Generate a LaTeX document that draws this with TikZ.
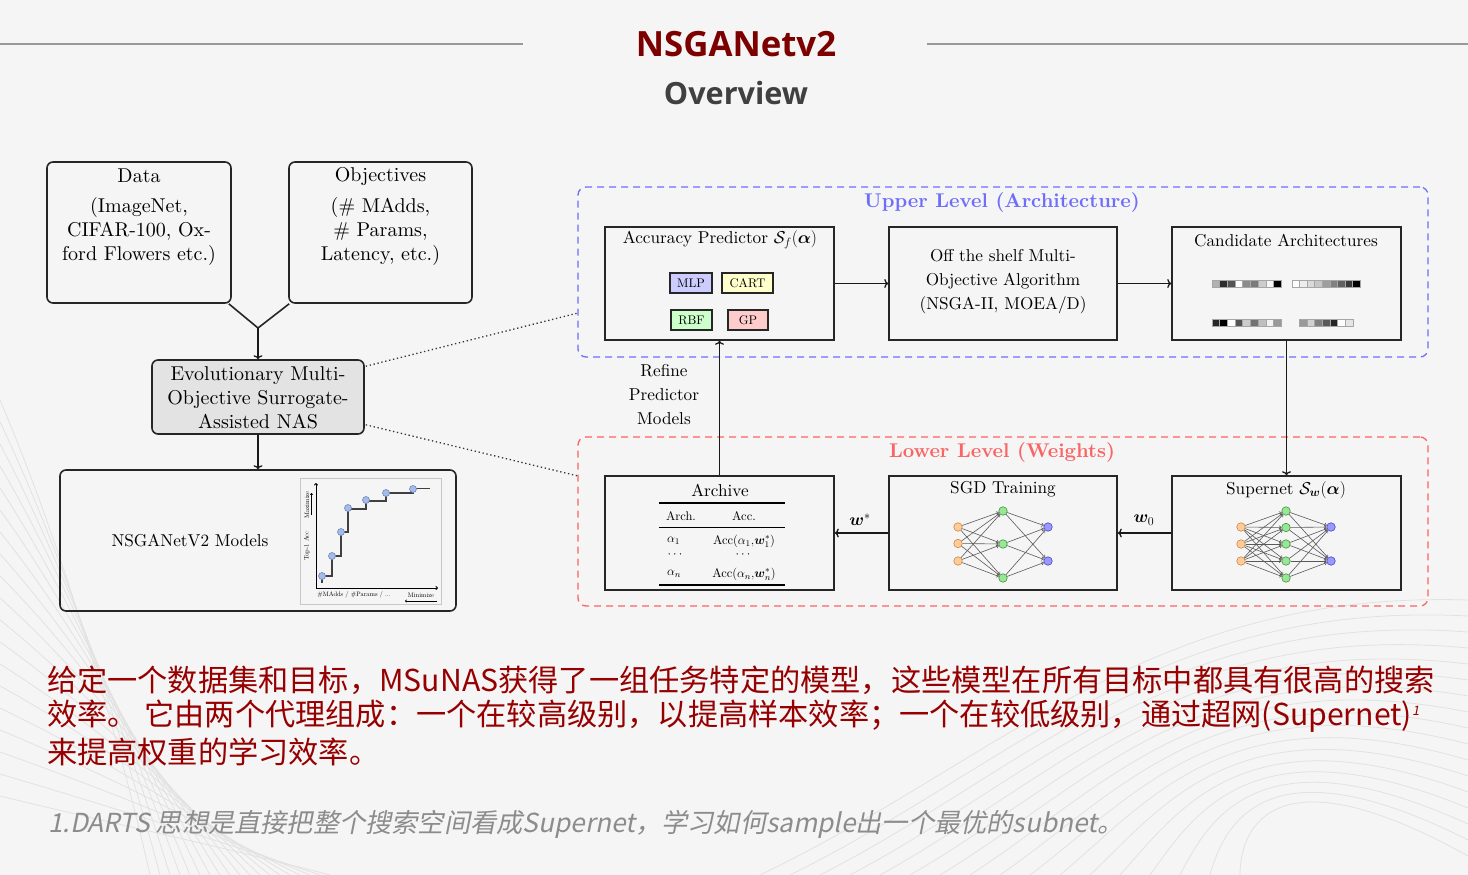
\documentclass[tikz,border=0pt]{standalone}
\usepackage{fix-cm}
\usepackage{amsmath,amssymb,bm}
\usepackage{fontspec}
\setmainfont{lmroman10-regular}[Extension=.otf, BoldFont=lmroman10-bold, ItalicFont=lmroman10-italic, BoldItalicFont=lmroman10-bolditalic]
\newfontfamily\titlefont{Open Sans}
\newfontfamily\cjk{Noto Sans CJK SC}
\newfontfamily\cjkit{Noto Sans CJK SC}[FakeSlant=0.2]
\usetikzlibrary{arrows.meta,calc}
\definecolor{bgc}{RGB}{245,245,245}
\definecolor{wavec}{RGB}{226,226,226}
\definecolor{titlered}{RGB}{125,0,0}
\definecolor{bodyred}{RGB}{150,0,0}
\definecolor{ovgray}{RGB}{64,64,64}
\definecolor{upblue}{RGB}{110,110,250}
\definecolor{lowred}{RGB}{250,100,100}
\definecolor{mlpc}{RGB}{204,204,255}
\definecolor{cartc}{RGB}{255,255,204}
\definecolor{rbfc}{RGB}{204,255,204}
\definecolor{gpc}{RGB}{255,204,204}
\definecolor{inf}{RGB}{255,204,153}
\definecolor{ind}{RGB}{204,136,68}
\definecolor{hif}{RGB}{153,230,153}
\definecolor{hid}{RGB}{60,150,60}
\definecolor{ouf}{RGB}{153,153,255}
\definecolor{oud}{RGB}{70,70,200}
\definecolor{ptf}{RGB}{165,188,232}
\definecolor{ptd}{RGB}{110,135,190}
\definecolor{footc}{RGB}{140,140,140}
\tikzset{
 rbox/.style={draw=black!85, line width=1.6pt, rounded corners=6pt, inner sep=0pt},
 sbox/.style={draw=black!85, line width=1.6pt, inner sep=0pt},
 arr/.style={line width=1.3pt, black!90, -{To[length=4pt,width=9pt]}},
 ln/.style={line width=1.6pt, black!85},
 tL/.style={font=\fontsize{20}{24}\selectfont, inner sep=0pt, align=center},
 tM/.style={font=\fontsize{17.2}{24}\selectfont, inner sep=0pt, align=center},
 tS/.style={font=\fontsize{12.5}{14}\selectfont, inner sep=0pt},
 tXS/.style={font=\fontsize{6.5}{7}\selectfont, inner sep=0pt},
 pbox/.style={draw=black!85, line width=1.5pt, inner sep=0pt, minimum height=20pt, font=\fontsize{12.5}{14}\selectfont},
 nin/.style={circle, draw=ind, fill=inf, minimum size=8.5pt, inner sep=0pt, line width=0.6pt},
 nhid/.style={circle, draw=hid, fill=hif, minimum size=8.5pt, inner sep=0pt, line width=0.6pt},
 nout/.style={circle, draw=oud, fill=ouf, minimum size=8.5pt, inner sep=0pt, line width=0.6pt},
 nedge/.style={line width=0.6pt, black!65, -{To[length=2.5pt,width=4pt]}},
 sq/.style={draw=black!35, line width=0.4pt},
 ppt/.style={circle, fill=ptf, draw=ptd, line width=0.6pt, minimum size=7pt, inner sep=0pt},
 lvl/.style={font=\bfseries\fontsize{19.9}{22}\selectfont, inner sep=0pt},
}
\begin{document}
\begin{tikzpicture}[x=1pt,y=-1pt]
\fill[bgc] (0,0) rectangle (1468,875);
\useasboundingbox (0,0) rectangle (1468,875);
% background waves
\foreach \i in {0,...,18}{
  \draw[wavec, line width=0.8pt] (0,{400+\i*22}) .. controls ({60+\i*4},{540+\i*16}) and ({120+\i*6},{740+\i*6}) .. ({150+\i*10},875);
}
\foreach \i in {0,...,16}{
  \draw[wavec, line width=0.8pt] ({760+\i*30},875) .. controls ({1000+\i*15},{760+\i*4}) and ({1150+\i*8},{590+\i*10}) .. (1468,{600+\i*16});
}
% title
\draw[black!40, line width=1.5pt] (0,44) -- (523,44);
\draw[black!40, line width=1.5pt] (927,44) -- (1468,44);
\node[font=\titlefont\bfseries\fontsize{34.8}{40}\selectfont, text=titlered, inner sep=0pt] (t1) at (736,44) {NSGANetv2};
\node[font=\titlefont\bfseries\fontsize{30.6}{36}\selectfont, text=ovgray, inner sep=0pt] (t2) at (736,93) {Overview};

% left boxes
\node[rbox, minimum width=184pt, minimum height=141pt] (data) at (139,232.5) {};
\node[tL] (datat) at (139,176) {Data};
\node[tL] (datab) at (139,231) {(ImageNet,\\CIFAR-100, Ox-\\ford Flowers etc.)};
\node[rbox, minimum width=183pt, minimum height=141pt] (obj) at (380.5,232.5) {};
\node[tL] (objt) at (380.5,176) {Objectives};
\node[tL] (objb) at (380.5,231) {(\# MAdds,\\\# Params,\\Latency, etc.)};
\node[rbox, fill=black!11, minimum width=212pt, minimum height=74pt] (emo) at (258,397) {};
\node[tL] (emot) at (258,397.5) {Evolutionary Multi-\\Objective Surrogate-\\Assisted NAS};
\coordinate (j) at (258,328);
\draw[ln] ($(data.south east)+(-3,0)$) -- (j);
\draw[ln] ($(obj.south west)+(1,0)$) -- (j);
\draw[arr] (j) -- (emo.north);
\node[rbox, minimum width=396pt, minimum height=141pt] (nsm) at (258,540.5) {};
\draw[arr] (emo.south) -- (nsm.north);
\node[tM] (nsmt) at (190,541) {NSGANetV2 Models};

% plot inset
\node[draw=black!22, line width=0.8pt, minimum width=141pt, minimum height=126pt, inner sep=0pt] (pf) at (370.5,541) {};
\coordinate (po) at (316,588);
\coordinate (py) at (316,483);
\coordinate (px) at (438,588);
\draw[line width=0.9pt, -{To[length=2.5pt,width=4pt]}] (po) -- (py);
\draw[line width=0.9pt, -{To[length=2.5pt,width=4pt]}] (po) -- (px);
\node[tXS, rotate=90] (ylab) at (307,546) {Top-1 Acc};
\node[tXS, rotate=90] (ymax) at (307,505) {Maximize};
\coordinate (ma1) at (311.5,515);
\coordinate (ma2) at (311.5,493);
\draw[line width=0.6pt, -{To[length=2pt,width=3pt]}] (ma1) -- (ma2);
\node[tXS] (xlab) at (354,595) {\#MAdds / \#Params / ...};
\node[tXS] (xmin) at (421,595) {Minimize};
\coordinate (mi1) at (437,601);
\coordinate (mi2) at (405,601);
\draw[line width=0.6pt, -{To[length=2pt,width=3pt]}] (mi1) -- (mi2);
\draw[line width=1.1pt, black!75] (322,583) -- (322,576) -- (332,576) -- (332,556) -- (341,556) -- (341,532) -- (348,532) -- (348,509) -- (366,509) -- (366,501) -- (386,501) -- (386,493) -- (413,493) -- (413,488.5) -- (430,488.5);
\foreach \x/\y [count=\k] in {322/576,332/556,341/532,348/508,366/500,386/493,413/489}{
  \node[ppt] (pp\k) at (\x,\y) {};
}

% dashed level boxes
\node[draw=upblue, dash pattern=on 7pt off 5pt, line width=1.3pt, rounded corners=8pt, minimum width=850pt, minimum height=170pt, inner sep=0pt] (upper) at (1003,272) {};
\node[lvl, text=upblue] (uppert) at (1002,203) {Upper Level (Architecture)};
\node[draw=lowred, dash pattern=on 7pt off 5pt, line width=1.3pt, rounded corners=8pt, minimum width=850pt, minimum height=169pt, inner sep=0pt] (lower) at (1003,521.5) {};
\node[lvl, text=lowred] (lowert) at (1002,453) {Lower Level (Weights)};

% dotted links
\coordinate (d1) at (578,313);
\coordinate (d2) at (578,476);
\draw[line width=1.3pt, dash pattern=on 1.3pt off 2.7pt, black!80] ($(emo.north east)+(1,7)$) -- (d1);
\draw[line width=1.3pt, dash pattern=on 1.3pt off 2.7pt, black!80] ($(emo.south east)+(1,-10)$) -- (d2);

% upper row
\node[sbox, minimum width=229pt, minimum height=113pt] (acc) at (719.5,283.5) {};
\node[tM] (acct) at (720,240) {Accuracy Predictor $\mathcal{S}_f(\bm{\alpha})$};
\node[pbox, fill=mlpc, minimum width=42pt] (mlp) at (691,283) {MLP};
\node[pbox, fill=cartc, minimum width=51pt] (cart) at (747.5,283) {CART};
\node[pbox, fill=rbfc, minimum width=41pt] (rbf) at (691.5,320) {RBF};
\node[pbox, fill=gpc, minimum width=40pt] (gp) at (748,320) {GP};

\node[sbox, minimum width=228pt, minimum height=113pt] (off) at (1003,283.5) {};
\node[tM] (offt) at (1003,282) {Off the shelf Multi-\\Objective Algorithm\\(NSGA-II, MOEA/D)};

\node[sbox, minimum width=229pt, minimum height=113pt] (cand) at (1286.5,283.5) {};
\node[tM] (candt) at (1286,241) {Candidate Architectures};
\foreach \g [count=\k from 0] in {70,18,33,100,55,48,80,96,0}{
  \draw[sq, fill=white!\g!black] ({1212+\k*7.67},280) rectangle ++(7.67,7);
}
\foreach \g [count=\k from 0] in {100,93,85,78,62,50,38,22,0}{
  \draw[sq, fill=white!\g!black] ({1292+\k*7.56},280) rectangle ++(7.56,7);
}
\foreach \g [count=\k from 0] in {15,0,100,33,80,45,75,95,60}{
  \draw[sq, fill=white!\g!black] ({1212+\k*7.67},319.5) rectangle ++(7.67,7);
}
\foreach \g [count=\k from 0] in {60,82,50,35,15,100,90}{
  \draw[sq, fill=white!\g!black] ({1299+\k*7.7},319.5) rectangle ++(7.7,7);
}

% lower row
\node[sbox, minimum width=229pt, minimum height=114pt] (arch) at (719.5,533) {};
\node[tM] (archt) at (720,490) {Archive};
\coordinate (r1a) at (659,503); \coordinate (r1b) at (785,503);
\coordinate (r2a) at (659,527.5); \coordinate (r2b) at (785,527.5);
\coordinate (r3a) at (659,585); \coordinate (r3b) at (785,585);
\draw[line width=1.3pt] (r1a) -- (r1b);
\draw[line width=0.7pt] (r2a) -- (r2b);
\draw[line width=1.3pt] (r3a) -- (r3b);
\node[tS] (h1) at (681,516.5) {Arch.};
\node[tS] (h2) at (744,516.5) {Acc.};
\node[tS, anchor=west] (a1) at (667,541) {$\alpha_1$};
\node[tS] (c1) at (744,541) {Acc$(\alpha_1{,}\bm{w}_1^*)$};
\node[tS] (dd1) at (676,555) {$\cdots$};
\node[tS] (dd2) at (744,555) {$\cdots$};
\node[tS, anchor=west] (an) at (667,574) {$\alpha_n$};
\node[tS] (cn) at (744,574) {Acc$(\alpha_n{,}\bm{w}_n^*)$};

\node[sbox, minimum width=228pt, minimum height=114pt] (sgd) at (1003,533) {};
\node[tM] (sgdt) at (1003,489) {SGD Training};
\foreach \y [count=\k] in {527,543.5,561}{ \node[nin] (si\k) at (958,\y) {}; }
\foreach \y [count=\k] in {511,544,578}{ \node[nhid] (sh\k) at (1003,\y) {}; }
\foreach \y [count=\k] in {527,561}{ \node[nout] (so\k) at (1048,\y) {}; }
\foreach \a in {1,2,3}{ \foreach \b in {1,2,3}{ \draw[nedge] (si\a) -- (sh\b); } }
\foreach \a in {1,2,3}{ \foreach \b in {1,2}{ \draw[nedge] (sh\a) -- (so\b); } }

\node[sbox, minimum width=229pt, minimum height=114pt] (sup) at (1286.5,533) {};
\node[tM] (supt) at (1286,490) {Supernet $\mathcal{S}_{\bm{w}}(\bm{\alpha})$};
\foreach \y [count=\k] in {527,544,561}{ \node[nin] (ui\k) at (1241,\y) {}; }
\foreach \y [count=\k] in {511,527.5,544,561,578}{ \node[nhid] (uh\k) at (1286,\y) {}; }
\foreach \y [count=\k] in {527,561}{ \node[nout] (uo\k) at (1331,\y) {}; }
\foreach \a in {1,2,3}{ \foreach \b in {1,...,5}{ \draw[nedge] (ui\a) -- (uh\b); } }
\foreach \a in {1,...,5}{ \foreach \b in {1,2}{ \draw[nedge] (uh\a) -- (uo\b); } }

% arrows between blocks
\draw[arr] (acc.east) -- (off.west);
\draw[arr] (off.east) -- (cand.west);
\draw[arr] (cand.south) -- (sup.north);
\draw[arr] (sup.west) -- (sgd.east);
\draw[arr] (sgd.west) -- (arch.east);
\draw[arr] (arch.north) -- (acc.south);
\node[tM] (w0) at (1144,520) {$\bm{w}_0$};
\node[tM] (ws) at (860,520) {$\bm{w}^*$};
\node[tM] (refine) at (664,395) {Refine\\Predictor\\Models};

% chinese text
\node[font=\cjk\fontsize{30.2}{36}\selectfont, text=bodyred, inner sep=0pt, anchor=west] (l1) at (47,680) {给定一个数据集和目标，MSuNAS获得了一组任务特定的模型，这些模型在所有目标中都具有很高的搜索};
\node[font=\cjk\fontsize{30.2}{36}\selectfont, text=bodyred, inner sep=0pt, anchor=west] (l2) at (47,716) {效率。 它由两个代理组成：一个在较高级别，以提高样本效率；一个在较低级别，通过超网(Supernet)\raisebox{10pt}{\fontsize{13}{13}\selectfont\cjkit 1}};
\node[font=\cjk\fontsize{30.2}{36}\selectfont, text=bodyred, inner sep=0pt, anchor=west] (l3) at (47,752) {来提高权重的学习效率。};
\node[font=\cjkit\fontsize{26.2}{30}\selectfont, text=footc, inner sep=0pt, anchor=west] (fn) at (48,824) {1.DARTS 思想是直接把整个搜索空间看成Supernet，学习如何sample出一个最优的subnet。};
\end{tikzpicture}
\end{document}
